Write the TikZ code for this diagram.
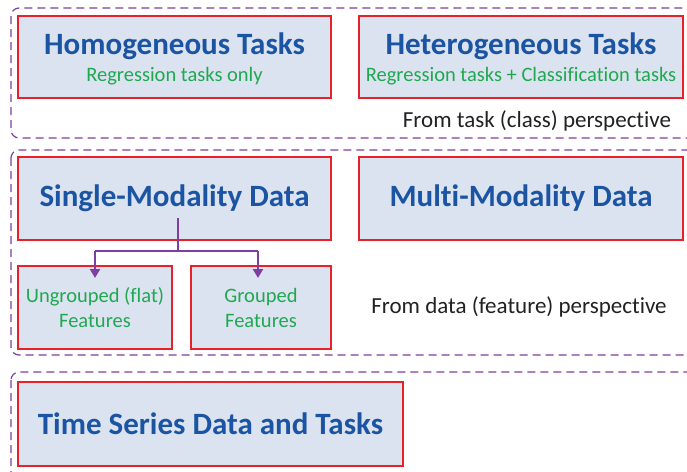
\documentclass[tikz,border=0pt]{standalone}
\usepackage{fontspec}
\setmainfont{Carlito}[Ligatures=NoCommon]
\usetikzlibrary{arrows.meta}
\definecolor{boxfill}{RGB}{218,227,239}
\definecolor{boxred}{RGB}{232,32,42}
\definecolor{titleblue}{RGB}{28,84,164}
\definecolor{subgreen}{RGB}{32,168,80}
\definecolor{framepurple}{RGB}{128,60,160}
\definecolor{darktext}{RGB}{34,34,34}
\begin{document}
\begin{tikzpicture}[x=1pt,y=-1pt,
  catbox/.style={draw=boxred,fill=boxfill,line width=1.6pt},
  frame/.style={draw=framepurple,dashed,dash pattern=on 8pt off 5pt,line width=1.2pt,rounded corners=8pt},
  titletext/.style={text=titleblue,font=\bfseries\fontsize{31}{35}\selectfont},
  subtext/.style={text=subgreen,font=\fontsize{20.5}{25}\selectfont,align=center},
  persp/.style={text=darktext,font=\fontsize{23}{27}\selectfont},
  link/.style={draw=framepurple,line width=2.2pt},
  tip/.style={-{Triangle[length=9pt,width=10pt]}}
]
\useasboundingbox (0,0) rectangle (687,471);
\clip (0,0) rectangle (687,471);
\fill[white] (0,0) rectangle (687,471);
% frames
\draw[frame] (11,8) rectangle (720,138);
\draw[frame] (11,150) rectangle (720,355);
\draw[frame] (11,372) rectangle (720,500);
% boxes
\draw[catbox] (18,16) rectangle (331,98);
\draw[catbox] (359,16) rectangle (683,98);
\draw[catbox] (18,157) rectangle (331,240);
\draw[catbox] (359,157) rectangle (683,240);
\draw[catbox] (18,266) rectangle (172,349);
\draw[catbox] (191,266) rectangle (331,349);
\draw[catbox] (18,382) rectangle (403,466);
% texts
\node[titletext] (homo) at (174.5,46) {Homogeneous Tasks};
\node[subtext] (homosub) at (174.5,76) {Regression tasks only};
\node[titletext] (hetero) at (521,46) {Heterogeneous Tasks};
\node[subtext] (heterosub) at (521,76) {Regression tasks + Classification tasks};
\node[persp] (ptask) at (537,121) {From task (class) perspective};
\node[titletext] (single) at (174.5,198) {Single-Modality Data};
\node[titletext] (multi) at (521,198) {Multi-Modality Data};
\node[subtext] (ungrp) at (95,308) {Ungrouped (flat)\\Features};
\node[subtext] (grp) at (261,308) {Grouped\\Features};
\node[persp] (pdata) at (519,307) {From data (feature) perspective};
\node[titletext] (ts) at (210.5,424) {Time Series Data and Tasks};
% connectors
\coordinate (src) at (178,218);
\coordinate (junc) at (178,251);
\coordinate (ua) at (95,251);
\coordinate (ga) at (258,251);
\coordinate (ut) at (95,278);
\coordinate (gt) at (258,278);
\draw[link] (src) -- (junc);
\draw[link] (ua) -- (ga);
\draw[link,tip] (ua) -- (ut);
\draw[link,tip] (ga) -- (gt);
\end{tikzpicture}
\end{document}
